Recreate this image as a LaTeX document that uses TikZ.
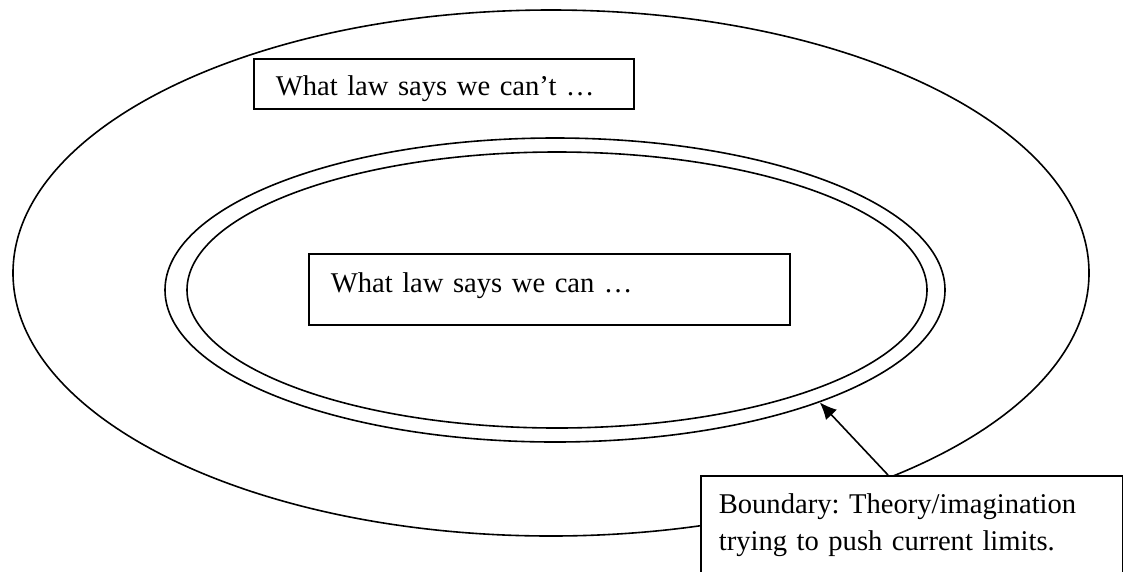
\documentclass[tikz,border=0pt]{standalone}
\usepackage{fontspec}
\setmainfont{Liberation Serif}
\usetikzlibrary{shapes.geometric,arrows.meta}
\begin{document}
\frenchspacing
\begin{tikzpicture}[x=1pt,y=-1pt,
  ring/.style={draw,ellipse,line width=1.6pt,inner sep=0pt},
  textbox/.style={draw,rectangle,line width=1.6pt,fill=white,align=left,
    font=\fontsize{28.6}{37}\selectfont},
  pointer/.style={line width=1.6pt,-{Latex[length=17pt,width=15pt]}}]
  \clip (0,0) rectangle (1123,571);
  \fill[white] (0,0) rectangle (1123,571);

  % region of what the law forbids
  \node[ring,minimum width=1076pt,minimum height=526pt] (outer) at (551,273) {};
  % double boundary around what the law allows
  \node[ring,minimum width=780pt,minimum height=304pt] (limA) at (555,290) {};
  \node[ring,minimum width=740pt,minimum height=276pt] (limB) at (557,290) {};

  \node[textbox,anchor=north west,text width=336pt,inner xsep=22pt,inner ysep=8pt,
        text height=29pt,text depth=5pt] (cant) at (253,58) {What law says we can’t …};
  \node[textbox,anchor=north west,text width=437pt,inner xsep=22pt,inner ysep=10pt,
        text height=29pt,text depth=22pt] (can) at (308,253) {What law says we can …};
  \node[textbox,anchor=north west,text width=386pt,inner xsep=18pt,inner ysep=10pt,
        text height=28pt,text depth=60pt] (bound) at (700,475)
        {Boundary: Theory/imagination\\trying to push current limits.};

  \coordinate (tail) at ([xshift=188pt]bound.north west);
  \draw[pointer] (tail) -- (limA.-23.3);
\end{tikzpicture}
\end{document}
